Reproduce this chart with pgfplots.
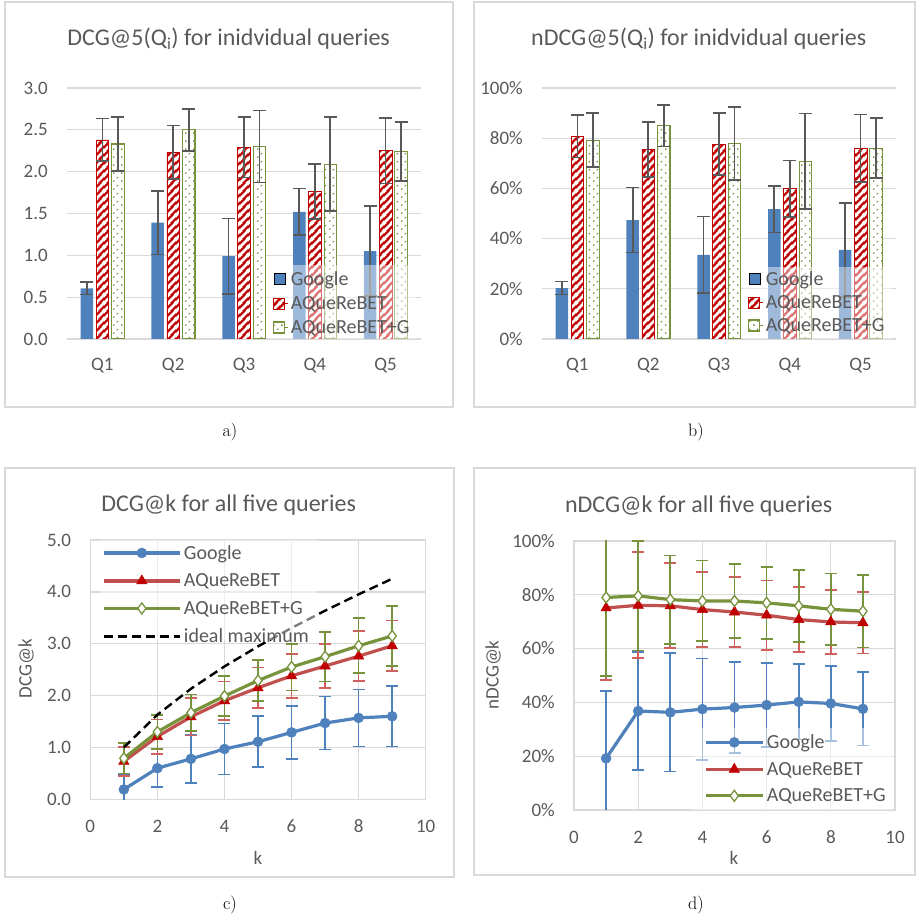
\documentclass[border=0pt]{standalone}
\usepackage{pgfplots}
\pgfplotsset{compat=1.18}
\usepackage{pgfplotstable}
\usepackage{fontspec}
\newfontfamily\carlito{Carlito}
\usetikzlibrary{patterns.meta}

\definecolor{gblue}{HTML}{4F81BD}
\definecolor{rbar}{HTML}{C00000}
\definecolor{rline}{HTML}{C0504D}
\definecolor{rerr}{HTML}{D0605D}
\definecolor{gline}{HTML}{77933C}
\definecolor{errc}{HTML}{595959}
\definecolor{txt}{HTML}{595959}
\definecolor{gridc}{HTML}{D9D9D9}

\tikzdeclarepattern{
  name=wstripes, type=uncolored,
  bounding box={(0bp,0bp) and (8bp,8bp)},
  tile size={(8bp,8bp)},
  code={
    \draw[line width=2.8bp] (-2bp,-2bp) -- (10bp,10bp);
    \draw[line width=2.8bp] (-2bp,6bp) -- (2bp,10bp);
    \draw[line width=2.8bp] (6bp,-2bp) -- (10bp,2bp);
  }
}
\tikzdeclarepattern{
  name=gdots, type=uncolored,
  bounding box={(0bp,0bp) and (8bp,8bp)},
  tile size={(8bp,8bp)},
  code={
    \fill (1.3bp,1.3bp) rectangle (2.8bp,2.8bp);
    \fill (5.3bp,5.3bp) rectangle (6.8bp,6.8bp);
  }
}

\newcommand\ticksize{\carlito\fontsize{19bp}{22bp}\selectfont}
\newcommand\legsize{\carlito\fontsize{20bp}{23bp}\selectfont}
\newcommand\titlesize{\carlito\fontsize{24bp}{28bp}\selectfont}

\pgfplotstableread{
q g ge r re gg gge
1 0.605 0.075 2.38 0.255 2.33 0.32
2 1.39 0.38 2.23 0.32 2.50 0.25
3 0.99 0.45 2.29 0.36 2.30 0.43
4 1.52 0.28 1.76 0.33 2.09 0.56
5 1.05 0.54 2.25 0.39 2.24 0.355
}\dcgq

\pgfplotstableread{
q g ge r re gg gge
1 20.3 2.6 80.7 8.4 79.2 10.7
2 47.4 13.0 75.4 11.0 84.9 8.2
3 33.5 15.3 77.6 12.3 77.8 14.5
4 51.7 9.3 59.9 11.2 70.8 19.0
5 35.5 18.7 76.0 13.4 76.0 12.0
}\ndcgq

\pgfplotstableread{
k g ge r re gg gge ideal
1 0.19 0.28 0.73 0.28 0.79 0.29 1.000
2 0.60 0.36 1.21 0.33 1.30 0.33 1.631
3 0.78 0.47 1.59 0.36 1.67 0.35 2.131
4 0.97 0.49 1.90 0.37 1.99 0.39 2.562
5 1.11 0.49 2.15 0.39 2.29 0.40 2.948
6 1.29 0.51 2.38 0.42 2.55 0.45 3.304
7 1.47 0.51 2.57 0.43 2.75 0.48 3.637
8 1.57 0.55 2.76 0.48 2.96 0.53 3.952
9 1.60 0.58 2.96 0.49 3.15 0.58 4.253
}\dcgk

\pgfplotstableread{
k g ge r re gg gge
1 19.2 25.0 75.1 26.8 79.0 29.2
2 36.8 22.0 76.1 19.7 79.6 20.3
3 36.3 22.0 75.9 15.8 78.2 16.4
4 37.5 18.8 74.5 13.9 77.7 15.0
5 38.1 16.8 73.6 13.0 77.7 13.7
6 39.0 15.7 72.4 12.9 77.0 13.4
7 40.2 14.0 70.8 12.0 75.9 13.4
8 39.6 14.0 69.9 12.0 74.6 13.3
9 37.6 13.6 69.6 11.4 73.9 13.5
}\ndcgk

\pgfplotsset{
  common/.style={
    scale only axis, anchor=south west,
    major tick length=0pt,
    tick label style={font=\ticksize, text=txt},
    yticklabel style={anchor=east, inner sep=0pt, xshift=-19bp},
    xticklabel style={anchor=center, inner sep=0pt, yshift=-27bp},
    /pgf/number format/assume math mode=true,
    grid style={gridc, line width=1.3bp},
    legend cell align=left,
  },
  baraxis/.style={
    common,
    xmin=0.5, xmax=5.5, ymin=0,
    xtick={1,...,5}, xticklabels={Q1,Q2,Q3,Q4,Q5},
    axis line style={draw=none},
    ymajorgrids,
    ybar, bar width=12.5bp,
    legend image code/.code={\path (0bp,0bp) -- (14bp,0bp); \draw[##1] (0bp,-5.5bp) rectangle (11bp,5.5bp);},
    legend style={draw=none, fill=none, font=\legsize, text=txt,
      inner sep=0pt, row sep=4.5bp, nodes={inner sep=2.5bp, anchor=west}},
  },
  berr/.style={error bars/.cd, y dir=both, y explicit,
    error bar style={errc, line width=1.7bp},
    error mark options={rotate=90, errc, mark size=6.5bp, line width=1.7bp}},
  gbarst/.style={fill=gblue, draw=none, bar shift=-15.5bp, berr},
  rbarst/.style={fill=rbar, draw=rbar, line width=0.6bp, postaction={pattern=wstripes, pattern color=white}, bar shift=0bp, berr},
  ggbarst/.style={fill=white, draw=gline, line width=1.1bp, postaction={pattern=gdots, pattern color=gline}, bar shift=15.5bp, berr},
  lineaxis/.style={
    common,
    xmin=0, xmax=10, xtick={0,2,...,10}, ymin=0,
    grid=major, axis line style={gridc, line width=1.3bp},
    legend style={draw=none, fill=none, font=\legsize, text=txt,
      inner sep=0pt, row sep=7bp, nodes={inner sep=2.5bp, anchor=west}},
  },
  gser/.style={gblue, line width=3.2bp, mark=*, mark size=5bp,
    mark options={fill=gblue, draw=gblue, line width=0.5bp},
    error bars/.cd, y dir=both, y explicit,
    error bar style={gblue, line width=1.7bp},
    error mark options={rotate=90, gblue, mark size=6bp, line width=1.7bp}},
  rser/.style={rline, line width=3.2bp, mark=triangle*, mark size=6bp,
    mark options={fill=rbar, draw=rbar, line width=0.5bp},
    error bars/.cd, y dir=both, y explicit,
    error bar style={rerr, line width=1.7bp},
    error mark options={rotate=90, rerr, mark size=6bp, line width=1.7bp}},
  ggser/.style={gline, line width=3.2bp, mark=diamond*, mark size=5.5bp,
    mark options={fill=white, draw=gline, line width=1.3bp},
    error bars/.cd, y dir=both, y explicit,
    error bar style={gline, line width=1.7bp},
    error mark options={rotate=90, gline, mark size=6bp, line width=1.7bp}},
  leglong/.style={legend image code/.code={\draw[mark repeat=2, mark phase=2, ##1] plot coordinates {(0bp,0bp) (38bp,0bp) (76bp,0bp)};}},
  legshort/.style={legend image code/.code={\draw[mark repeat=2, mark phase=2, ##1] plot coordinates {(0bp,0bp) (28.5bp,0bp) (57bp,0bp)};}},
}

\begin{document}
\begin{tikzpicture}[x=1bp, y=1bp, font=\carlito]
\useasboundingbox (0,0) rectangle (917,919);
% panel frames
\draw[gridc, line width=1.2bp] (5,512) rectangle (453,917);
\draw[gridc, line width=1.2bp] (474,512) rectangle (915,917);
\draw[gridc, line width=1.2bp] (5,42) rectangle (454,451);
\draw[gridc, line width=1.2bp] (474,44) rectangle (915,451);

% ---------- a) ----------
\begin{axis}[baraxis, at={(67bp,580bp)}, width=354bp, height=251bp,
  ymax=3, ytick={0,0.5,...,3},
  yticklabel style={/pgf/number format/.cd, fixed, fixed zerofill, precision=1},
  legend style={at={(0.582,0.28)}, anchor=north west}]
\addplot[gbarst] table[x=q, y=g, y error=ge] {\dcgq};
\addplot[rbarst] table[x=q, y=r, y error=re] {\dcgq};
\addplot[ggbarst] table[x=q, y=gg, y error=gge] {\dcgq};
\fill[white, opacity=0.45] (rel axis cs:0.567,0) rectangle (rel axis cs:0.985,0.295);
\legend{Google, AQueReBET, AQueReBET+G}
\end{axis}
\node[text=txt, font=\titlesize] at (228.7,880) {DCG@5(Q\textsubscript{i}) for inidvidual queries};

% ---------- b) ----------
\begin{axis}[baraxis, at={(542bp,580bp)}, width=354bp, height=251bp,
  ymax=100, ytick={0,20,...,100},
  yticklabels={0\%,20\%,40\%,60\%,80\%,100\%},
  legend style={at={(0.582,0.28)}, anchor=north west, row sep=3.5bp}]
\addplot[gbarst] table[x=q, y=g, y error=ge] {\ndcgq};
\addplot[rbarst] table[x=q, y=r, y error=re] {\ndcgq};
\addplot[ggbarst] table[x=q, y=gg, y error=gge] {\ndcgq};
\fill[white, opacity=0.45] (rel axis cs:0.567,0) rectangle (rel axis cs:0.985,0.285);
\legend{Google, AQueReBET, AQueReBET+G}
\end{axis}
\node[text=txt, font=\titlesize] at (698.7,880) {nDCG@5(Q\textsubscript{i}) for inidvidual queries};

% ---------- c) ----------
\begin{axis}[lineaxis, leglong, at={(90.3bp,119.7bp)}, width=335.4bp, height=259.3bp,
  ymax=5, ytick={0,1,...,5},
  yticklabel style={/pgf/number format/.cd, fixed, fixed zerofill, precision=1},
  legend style={at={(0.035,0.99)}, anchor=north west, row sep=8bp}]
\addplot[gser] table[x=k, y=g, y error=ge] {\dcgk};
\addplot[rser] table[x=k, y=r, y error=re] {\dcgk};
\addplot[ggser] table[x=k, y=gg, y error=gge] {\dcgk};
\addplot[black, line width=2.4bp, dash pattern=on 9bp off 5bp] table[x=k, y=ideal] {\dcgk};
\fill[white, opacity=0.5] (rel axis cs:0.03,0.615) rectangle (rel axis cs:0.676,1);
\legend{Google, AQueReBET, AQueReBET+G, ideal maximum}
\end{axis}
\node[text=txt, font=\titlesize] at (228.7,414) {DCG@k for all five queries};
\node[text=txt, font=\ticksize, rotate=90] at (26,250) {DCG@k};
\node[text=txt, font=\ticksize] at (258,61) {k};

% ---------- d) ----------
\begin{axis}[lineaxis, legshort, at={(574bp,109bp)}, width=321bp, height=269bp,
  ymax=100, ytick={0,20,...,100},
  yticklabels={0\%,20\%,40\%,60\%,80\%,100\%},
  legend style={at={(0.405,0.29)}, anchor=north west}]
\addplot[gser] table[x=k, y=g, y error=ge] {\ndcgk};
\addplot[rser] table[x=k, y=r, y error=re] {\ndcgk};
\addplot[ggser] table[x=k, y=gg, y error=gge] {\ndcgk};
\fill[white, opacity=0.5] (rel axis cs:0.368,0) rectangle (rel axis cs:0.994,0.305);
\legend{Google, AQueReBET, AQueReBET+G}
\end{axis}
\node[text=txt, font=\titlesize] at (698.7,413) {nDCG@k for all five queries};
\node[text=txt, font=\ticksize, rotate=90] at (493,244) {nDCG@k};
\node[text=txt, font=\ticksize] at (734,61) {k};

% subfigure labels
\node[font=\rmfamily\fontsize{18bp}{21bp}\selectfont] at (230,487) {a)};
\node[font=\rmfamily\fontsize{18bp}{21bp}\selectfont] at (696,487) {b)};
\node[font=\rmfamily\fontsize{18bp}{21bp}\selectfont] at (230,14) {c)};
\node[font=\rmfamily\fontsize{18bp}{21bp}\selectfont] at (696,14) {d)};
\end{tikzpicture}
\end{document}
